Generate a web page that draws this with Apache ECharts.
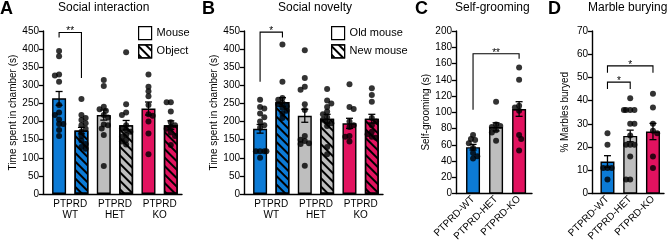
<!DOCTYPE html>
<html>
<head>
<meta charset="utf-8">
<script src="https://cdn.jsdelivr.net/npm/echarts@6/dist/echarts.min.js"></script>
<style>
  html, body { margin: 0; padding: 0; background: #fff; }
  #chart { width: 669px; height: 244px; }
</style>
</head>
<body>
<div id="chart"></div>
<script>
// ---- data ----
const groupLabels = ['PTPRD\nWT', 'PTPRD\nHET', 'PTPRD\nKO'];
const genoLabels = ['PTPRD-WT', 'PTPRD-HET', 'PTPRD-KO'];

// A. social interaction (s)
const interMouseMean = [264, 218, 236];
const interMouseSem = [19, 14, 18];
const interObjectMean = [175, 190, 190];
const interObjectSem = [9, 13, 12];
const interMouseDots = [
  [395, 380, 330, 327, 310, 246, 225, 218, 206, 193, 193, 177, 160],
  [315, 298, 241, 234, 230, 218, 211, 192, 190, 181, 163, 77],
  [330, 296, 284, 270, 246, 220, 216, 200, 167, 110]
];
const interObjectDots = [
  [262, 218, 210, 204, 195, 190, 180, 172, 160, 148, 138, 130, 125],
  [391, 248, 225, 218, 190, 181, 177, 172, 163, 158, 149, 145, 137],
  [253, 253, 228, 198, 190, 185, 180, 170, 160, 135]
];
// brackets: [from bar, to bar, top, foot at from, foot at to, stars]
const interSig = [[0, 1, 446, 432, 320, '**']];

// B. social novelty (s)
const novOldMean = [180, 216, 195];
const novOldSem = [12, 18, 14];
const novNewMean = [254, 208, 208];
const novNewSem = [12, 12, 12];
const novOldDots = [
  [260, 240, 236, 222, 212, 200, 190, 183, 118, 118, 118, 118, 100],
  [397, 320, 296, 288, 248, 232, 160, 150, 146, 140, 138, 78],
  [303, 240, 235, 200, 190, 185, 160, 158, 145]
];
const novNewDots = [
  [413, 310, 265, 260, 252, 248, 242, 238, 230, 222, 210],
  [290, 258, 250, 240, 228, 220, 212, 205, 200, 195, 188, 130, 110],
  [292, 273, 255, 210, 200, 190, 172, 165, 158, 155]
];
const novSig = [[0, 1, 447, 310, 432, '*']];

// C. self-grooming (s)
const groomMean = [57, 82, 104];
const groomSem = [3.5, 5, 9];
const groomDots = [
  [72, 67, 66, 62, 56, 50, 46, 43],
  [113, 85, 83, 82, 78, 75, 65],
  [155, 140, 108, 106, 102, 72, 67, 53]
];
const groomSig = [[0, 2, 172, 103, 166, '**']];

// D. marble burying (%)
const marbleMean = [13.8, 24.8, 26.7];
const marbleSem = [2.5, 2.5, 3.5];
const marbleDots = [
  [26, 21, 11, 11, 11, 6],
  [41, 36, 36, 36, 36, 30, 30, 25, 21, 21, 21, 16, 6, 6],
  [43, 37, 30, 27, 26, 16, 11]
];
const marbleSig = [[0, 2, 55, 52, 52, '*'], [0, 1, 48, 45, 45, '*']];

// ---- look ----
const FONT = 'Liberation Sans';
const genoColors = ['#0C7BD6', '#BEBEBE', '#E2125F'];
const hatch = {
  symbol: 'rect', symbolSize: 1, rotation: Math.PI / 4,
  dashArrayX: [1, 0], dashArrayY: [2, 3.5], color: '#000'
};
const black = { color: '#000', width: 1.3 };

const grids = [
  { left: 43, top: 31, width: 139, height: 163 },
  { left: 244, top: 31, width: 139, height: 163 },
  { left: 456, top: 31, width: 76, height: 163 },
  { left: 592, top: 31, width: 72, height: 163 }
];
const xRanges = [[0.39, 3.5], [0.39, 3.5], [0.26, 3.56], [0.32, 3.485]];
const yScales = [[450, 50], [450, 50], [200, 20], [70, 10]];
const yNames = ['Time spent in chamber (s)', 'Time spent in chamber (s)', 'Self-grooming (s)', '% Marbles buryed'];
const yNameGaps = [23, 23, 25, 22];

// paired panels: bar slot -> x position
const pairX = s => Math.floor(s / 2) + 1 + (s % 2 ? 0.25 : -0.25);
const singleX = s => s + 1;

// simple beeswarm: pixel offsets so dots do not stack
function swarm(values, pxPerUnit) {
  const d = 4.2, step = 2.1, maxOff = 7.5;
  const order = values.map((v, i) => i).sort((a, b) => values[b] - values[a]);
  const placed = [];
  const offs = [];
  order.forEach((idx, n) => {
    const y = values[idx] * pxPerUnit;
    let off = 0;
    for (let k = 0; k < 12; k++) {
      const cand = k === 0 ? 0 : Math.ceil(k / 2) * step * ((k + n) % 2 ? 1 : -1);
      if (Math.abs(cand) > maxOff) break;
      off = cand;
      if (placed.every(p => (p.x - cand) ** 2 + (p.y - y) ** 2 >= d * d)) break;
    }
    placed.push({ x: off, y: y });
    offs[idx] = off;
  });
  return offs;
}

function dotSeries(panel, dots, xOf) {
  const ppu = grids[panel].height / yScales[panel][0];
  const data = [];
  dots.forEach((vals, g) => {
    const offs = swarm(vals, ppu);
    vals.forEach((v, i) => data.push({ value: [xOf(g), v], symbolOffset: [offs[i], 0] }));
  });
  return {
    type: 'scatter', xAxisIndex: panel, yAxisIndex: panel, data: data,
    symbolSize: 6, itemStyle: { color: '#000' }, z: 4, silent: true
  };
}

function barSeries(panel, name, means, xOf, decal) {
  const itemStyle = { color: '#fff', borderColor: '#000', borderWidth: 1.4 };
  if (decal) itemStyle.decal = decal;
  return {
    type: 'bar', name: name, xAxisIndex: panel, yAxisIndex: panel,
    barWidth: 14, barGap: '-100%', itemStyle: itemStyle, z: 2, silent: true,
    data: means.map((m, g) => ({ value: [xOf(g), m], itemStyle: { color: genoColors[g] } }))
  };
}

function errSeries(panel, means, sems, xOf) {
  return {
    type: 'custom', xAxisIndex: panel, yAxisIndex: panel, z: 5, silent: true,
    data: means.map((m, g) => [xOf(g), m, sems[g]]),
    encode: { x: 0, y: 1 },
    renderItem: function (params, api) {
      const x = api.value(0), m = api.value(1), s = api.value(2);
      const t = api.coord([x, m + s]), b = api.coord([x, m - s]);
      const hw = 3.5;
      const st = { stroke: '#000', lineWidth: 1.3 };
      return {
        type: 'group', children: [
          { type: 'line', shape: { x1: t[0], y1: t[1], x2: b[0], y2: b[1] }, style: st },
          { type: 'line', shape: { x1: t[0] - hw, y1: t[1], x2: t[0] + hw, y2: t[1] }, style: st },
          { type: 'line', shape: { x1: b[0] - hw, y1: b[1], x2: b[0] + hw, y2: b[1] }, style: st }
        ]
      };
    }
  };
}

function sigSeries(panel, sig, xOf) {
  return {
    type: 'custom', xAxisIndex: panel, yAxisIndex: panel, z: 6, silent: true,
    data: sig.map(r => [xOf(r[0]), xOf(r[1]), r[2], r[3], r[4]]),
    encode: { x: [0, 1], y: 2 },
    renderItem: function (params, api) {
      const x1 = api.value(0), x2 = api.value(1), top = api.value(2);
      const a = api.coord([x1, api.value(3)]), at = api.coord([x1, top]);
      const b = api.coord([x2, api.value(4)]), bt = api.coord([x2, top]);
      return {
        type: 'group', children: [
          { type: 'polyline', shape: { points: [a, at, bt, b] }, style: { stroke: '#000', lineWidth: 1.1, fill: null } },
          { type: 'text', style: {
              text: sig[params.dataIndex][5], x: (at[0] + bt[0]) / 2, y: at[1] - 1,
              align: 'center', verticalAlign: 'middle', fill: '#000', font: '10px ' + FONT } }
        ]
      };
    }
  };
}

function xAxisFor(panel, labels, rotate) {
  return {
    gridIndex: panel, type: 'value', min: xRanges[panel][0], max: xRanges[panel][1],
    splitLine: { show: false }, axisTick: { show: false },
    axisLine: { show: true, onZero: false, lineStyle: { color: '#000', width: 1.4 } },
    axisLabel: {
      customValues: [1, 2, 3], formatter: v => labels[Math.round(v) - 1] || '',
      rotate: rotate, color: '#000', fontSize: 10, fontFamily: FONT, margin: rotate ? 4 : 5, lineHeight: 11
    }
  };
}

function yAxisFor(panel) {
  return {
    gridIndex: panel, type: 'value', min: 0, max: yScales[panel][0], interval: yScales[panel][1],
    name: yNames[panel], nameLocation: 'middle', nameGap: yNameGaps[panel],
    nameTextStyle: { color: '#000', fontSize: 10, fontFamily: FONT },
    splitLine: { show: false },
    axisLine: { show: true, lineStyle: { color: '#000', width: 1.4 } },
    axisTick: { show: true, length: 4, lineStyle: black },
    axisLabel: { color: '#000', fontSize: 10, fontFamily: FONT, margin: 4 }
  };
}

const letter = (t, x) => ({ text: t, left: x, top: 0, padding: 0,
  textStyle: { fontSize: 18, fontWeight: 'bold', color: '#000', fontFamily: FONT } });
const heading = (t, x) => ({ text: t, left: x, top: 2, padding: 0,
  textStyle: { fontSize: 12, fontWeight: 'normal', color: '#000', fontFamily: FONT } });
const legendAt = (names, x) => ({
  data: names, orient: 'vertical', left: x, top: 26, padding: 0,
  itemWidth: 13, itemHeight: 13, itemGap: 4, icon: 'rect', selectedMode: false,
  itemStyle: { borderColor: '#000', borderWidth: 1.2 },
  textStyle: { color: '#000', fontSize: 11, fontFamily: FONT }
});

const chart = echarts.init(document.getElementById('chart'), null, { renderer: 'canvas' });
chart.setOption({
  animation: false,
  backgroundColor: '#fff',
  textStyle: { fontFamily: FONT },
  title: [
    letter('A', 0), heading('Social interaction', 58),
    letter('B', 202), heading('Social novelty', 278),
    letter('C', 415), heading('Self-grooming', 455),
    letter('D', 548), heading('Marble burying', 588)
  ],
  legend: [legendAt(['Mouse', 'Object'], 138), legendAt(['Old mouse', 'New mouse'], 331)],
  grid: grids,
  xAxis: [xAxisFor(0, groupLabels, 0), xAxisFor(1, groupLabels, 0), xAxisFor(2, genoLabels, 45), xAxisFor(3, genoLabels, 45)],
  yAxis: [yAxisFor(0), yAxisFor(1), yAxisFor(2), yAxisFor(3)],
  series: [
    // A
    barSeries(0, 'Mouse', interMouseMean, g => pairX(2 * g)),
    barSeries(0, 'Object', interObjectMean, g => pairX(2 * g + 1), hatch),
    dotSeries(0, interMouseDots, g => pairX(2 * g)),
    dotSeries(0, interObjectDots, g => pairX(2 * g + 1)),
    errSeries(0, interMouseMean, interMouseSem, g => pairX(2 * g)),
    errSeries(0, interObjectMean, interObjectSem, g => pairX(2 * g + 1)),
    sigSeries(0, interSig, pairX),
    // B
    barSeries(1, 'Old mouse', novOldMean, g => pairX(2 * g)),
    barSeries(1, 'New mouse', novNewMean, g => pairX(2 * g + 1), hatch),
    dotSeries(1, novOldDots, g => pairX(2 * g)),
    dotSeries(1, novNewDots, g => pairX(2 * g + 1)),
    errSeries(1, novOldMean, novOldSem, g => pairX(2 * g)),
    errSeries(1, novNewMean, novNewSem, g => pairX(2 * g + 1)),
    sigSeries(1, novSig, pairX),
    // C
    barSeries(2, 'Self-grooming', groomMean, singleX),
    dotSeries(2, groomDots, singleX),
    errSeries(2, groomMean, groomSem, singleX),
    sigSeries(2, groomSig, singleX),
    // D
    barSeries(3, 'Marbles', marbleMean, singleX),
    dotSeries(3, marbleDots, singleX),
    errSeries(3, marbleMean, marbleSem, singleX),
    sigSeries(3, marbleSig, singleX)
  ]
});
</script>
</body>
</html>
